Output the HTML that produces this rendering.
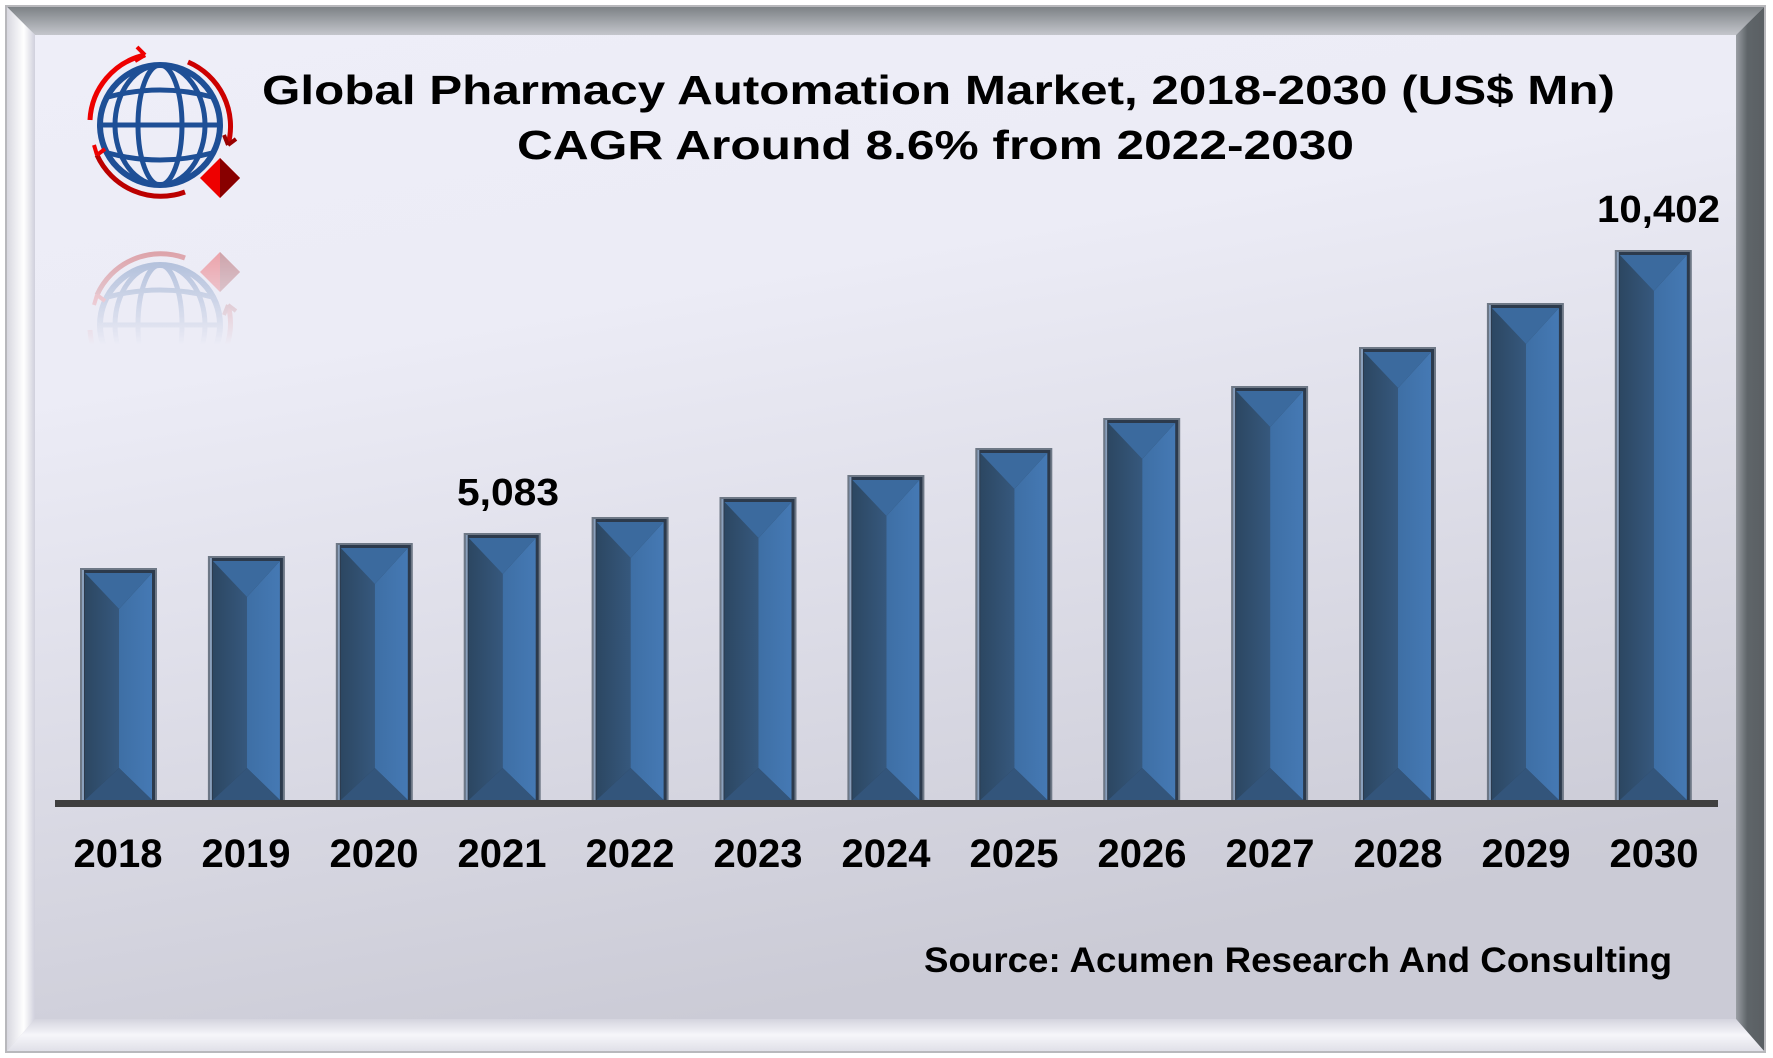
<!DOCTYPE html>
<html><head><meta charset="utf-8"><style>
html,body{margin:0;padding:0;width:1773px;height:1058px;overflow:hidden;background:#fff}
svg{display:block}
text{font-family:"Liberation Sans",Arial,sans-serif;font-weight:bold;fill:#000}
</style></head><body>
<svg width="1773" height="1058" viewBox="0 0 1773 1058" xmlns="http://www.w3.org/2000/svg">
<defs>
<linearGradient id="bg" x1="0" y1="0" x2="0.3" y2="1">
<stop offset="0" stop-color="#eeeef8"/><stop offset="0.35" stop-color="#ececf6"/><stop offset="1" stop-color="#cbcbd6"/>
</linearGradient>
<linearGradient id="topb" x1="0" y1="0" x2="0" y2="1"><stop offset="0" stop-color="#7d8286"/><stop offset="1" stop-color="#c4c6cc"/></linearGradient>
<linearGradient id="leftb" x1="0" y1="0" x2="1" y2="0"><stop offset="0" stop-color="#d8d8e0"/><stop offset="0.6" stop-color="#ffffff"/><stop offset="1" stop-color="#d0d0dc"/></linearGradient>
<linearGradient id="rightb" x1="0" y1="0" x2="1" y2="0"><stop offset="0" stop-color="#9a9ea4"/><stop offset="0.4" stop-color="#5f6569"/><stop offset="1" stop-color="#5a5f63"/></linearGradient>
<linearGradient id="botb" x1="0" y1="0" x2="0" y2="1"><stop offset="0" stop-color="#d4d4de"/><stop offset="0.5" stop-color="#f6f6fa"/><stop offset="1" stop-color="#e0e0e8"/></linearGradient>
<linearGradient id="lp" x1="0" y1="0" x2="1" y2="0"><stop offset="0" stop-color="#2c4762"/><stop offset="1" stop-color="#36587d"/></linearGradient>
<linearGradient id="rp" x1="0" y1="0" x2="1" y2="0"><stop offset="0" stop-color="#3e6fa5"/><stop offset="1" stop-color="#4579b4"/></linearGradient>
<linearGradient id="fadeg" gradientUnits="userSpaceOnUse" x1="0" y1="240" x2="0" y2="345"><stop offset="0" stop-color="#fff" stop-opacity="0.35"/><stop offset="1" stop-color="#fff" stop-opacity="0"/></linearGradient>
<mask id="fm" maskUnits="userSpaceOnUse" x="0" y="0" width="400" height="400"><rect x="0" y="225" width="400" height="130" fill="url(#fadeg)"/></mask>
<g id="logo">
<circle cx="0" cy="0" r="60" fill="none" stroke="#1e4f96" stroke-width="6"/>
<ellipse cx="0" cy="0" rx="22" ry="60" fill="none" stroke="#1e4f96" stroke-width="5"/>
<ellipse cx="0" cy="0" rx="45" ry="60" fill="none" stroke="#1e4f96" stroke-width="5"/>
<line x1="-60" y1="0" x2="60" y2="0" stroke="#1e4f96" stroke-width="5"/>
<path d="M-52,-28 Q0,-42 52,-28 M-52,28 Q0,42 52,28" fill="none" stroke="#1e4f96" stroke-width="5"/>
<path d="M-70,-5 A70,70 0 0 1 -15,-70" fill="none" stroke="#e00" stroke-width="5"/>
<path d="M-15,-70 l-8,-8 M-15,-70 l-10,6" stroke="#e00" stroke-width="4"/>
<path d="M28,-63 A70,70 0 0 1 68,20" fill="none" stroke="#c00" stroke-width="5"/>
<path d="M68,20 l8,-6 M68,20 l-4,-10" stroke="#900" stroke-width="4"/>
<path d="M-63,30 A70,70 0 0 0 25,67" fill="none" stroke="#b00" stroke-width="5"/>
<path d="M-63,30 l-3,-10 M-63,30 l8,-6" stroke="#e00" stroke-width="4"/>
<polygon points="40,53 60,33 80,53 60,73" fill="#e00"/>
<polygon points="60,33 80,53 60,73" fill="#800"/>
</g>
</defs>
<rect x="0" y="0" width="1773" height="1058" fill="#fff"/>
<rect x="5" y="5" width="1761" height="1048" fill="#b8b8bc"/>
<rect x="7" y="7" width="1757" height="1044" fill="url(#bg)"/>
<polygon points="7,7 1764,7 1736,35 35,35" fill="url(#topb)"/>
<polygon points="7,7 35,35 35,1019 7,1051" fill="url(#leftb)"/>
<polygon points="1764,7 1764,1051 1736,1019 1736,35" fill="url(#rightb)"/>
<polygon points="7,1051 35,1019 1736,1019 1764,1051" fill="url(#botb)"/>

<use href="#logo" transform="translate(160,125)"/>
<g mask="url(#fm)"><use href="#logo" transform="translate(160,325) scale(1,-1)"/></g>

<text x="262" y="104" font-size="41" textLength="1353" lengthAdjust="spacingAndGlyphs">Global Pharmacy Automation Market, 2018-2030 (US$ Mn)</text>
<text x="517" y="159" font-size="41" textLength="837" lengthAdjust="spacingAndGlyphs">CAGR Around 8.6% from 2022-2030</text>

<g id="bars"></g>
<rect x="55" y="800" width="1663" height="7" fill="#3f3f3f"/>

<g font-size="40" text-anchor="middle">
<text x="118" y="867">2018</text><text x="246" y="867">2019</text><text x="374" y="867">2020</text><text x="502" y="867">2021</text>
<text x="630" y="867">2022</text><text x="758" y="867">2023</text><text x="886" y="867">2024</text><text x="1014" y="867">2025</text>
<text x="1142" y="867">2026</text><text x="1270" y="867">2027</text><text x="1398" y="867">2028</text><text x="1526" y="867">2029</text>
<text x="1654" y="867">2030</text>
</g>
<text x="457" y="505" font-size="38" textLength="102" lengthAdjust="spacingAndGlyphs">5,083</text>
<text x="1597" y="222" font-size="38" textLength="123" lengthAdjust="spacingAndGlyphs">10,402</text>
<text x="924" y="972" font-size="35" textLength="748" lengthAdjust="spacingAndGlyphs">Source: Acumen Research And Consulting</text>
</svg>
<script>
var tops=[568,556,543,533,517,497,475,448,418,386,347,303,250];
var g=document.getElementById("bars"),B=800,s="";
for(var i=0;i<13;i++){var x=80+127.9*i,t=tops[i],w=77,m=x+39;
s+='<rect x="'+x+'" y="'+t+'" width="'+w+'" height="'+(B-t)+'" fill="#6e7886"/>';
s+='<rect x="'+(x+2)+'" y="'+(t+2)+'" width="'+(w-4)+'" height="'+(B-t-2)+'" fill="#2c3a4c"/>';
var L=x+5,R=x+w-5,T=t+5;
s+='<polygon points="'+L+','+T+' '+m+','+(T+36)+' '+m+','+(B-32)+' '+L+','+B+'" fill="url(#lp)"/>';
s+='<polygon points="'+R+','+T+' '+m+','+(T+36)+' '+m+','+(B-32)+' '+R+','+B+'" fill="url(#rp)"/>';
s+='<polygon points="'+L+','+T+' '+R+','+T+' '+m+','+(T+36)+'" fill="#3b6a9e"/>';
s+='<polygon points="'+L+','+B+' '+R+','+B+' '+m+','+(B-32)+'" fill="#33557b"/>';
s+='<rect x="'+(x+2)+'" y="'+(t+2)+'" width="2" height="'+(B-t-2)+'" fill="#8aa0bc"/>';}
g.innerHTML=s;
</script>
</body></html>
